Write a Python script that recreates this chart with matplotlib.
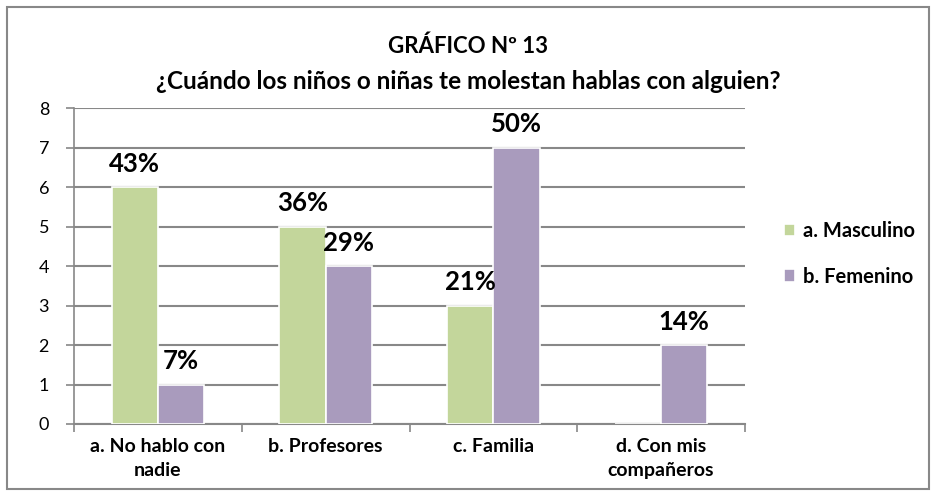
import numpy as np
import matplotlib
matplotlib.use("Agg")
import matplotlib.pyplot as plt
from matplotlib.patches import Rectangle

plt.rcParams['font.family'] = ['Lato', 'DejaVu Sans']

categorias = ["a. No hablo con\nnadie", "b. Profesores", "c. Familia", "d. Con mis\ncompañeros"]
masculino = [6, 5, 3, 0]
femenino = [1, 4, 7, 2]
etiq_masc = ["43%", "36%", "21%", ""]
etiq_fem = ["7%", "29%", "50%", "14%"]

verde = "#C3D69B"
morado = "#A99BBD"

fig = plt.figure(figsize=(9.36, 4.97), dpi=100)
ax = fig.add_axes([74/936, 1 - 424/497, (745 - 74)/936, (424 - 108)/497])

x = np.arange(len(categorias))
w = 0.275
b1 = ax.bar(x - w/2, masculino, w, color=verde, edgecolor="white", linewidth=1.2, label="a. Masculino", zorder=3)
b2 = ax.bar(x + w/2, femenino, w, color=morado, edgecolor="white", linewidth=1.2, label="b. Femenino", zorder=3)

# etiquetas de porcentaje sobre las barras
for barras, etiq in [(b1, etiq_masc), (b2, etiq_fem)]:
    for rect, t in zip(barras, etiq):
        if t:
            ax.annotate(t, (rect.get_x() + rect.get_width()/2, rect.get_height()), xytext=(0, 8),
                        textcoords="offset points", ha="center", va="bottom", fontsize=18.5, fontweight="bold")

ax.set_xlim(-0.5, 3.5)
ax.set_ylim(0, 8)
ax.set_yticks(range(0, 9))
ax.tick_params(axis="y", labelsize=13, length=6, color="#888888", width=1.2, pad=12)
ax.set_xticks(np.arange(-0.5, 4, 1))
ax.set_xticklabels([])
ax.set_xticks(x, minor=True)
ax.set_xticklabels(categorias, minor=True, fontsize=14, fontweight="bold", linespacing=1.5)
ax.tick_params(axis="x", which="minor", length=0, pad=10)
ax.tick_params(axis="x", which="major", length=6, color="#888888", width=1.2)
ax.yaxis.grid(True, color="#888888", linewidth=1.5, zorder=0)
ax.set_axisbelow(True)
for s in ["top", "right"]:
    ax.spines[s].set_visible(False)
ax.spines["left"].set_color("#888888")
ax.spines["bottom"].set_color("#888888")
ax.spines["left"].set_linewidth(1.2)
ax.spines["bottom"].set_linewidth(1.5)

fig.text(0.5, 1 - 46/497, "GRÁFICO Nº 13", ha="center", va="center", fontsize=16, fontweight="bold")
fig.text(0.5, 1 - 81/497, "¿Cuándo los niños o niñas te molestan hablas con alguien?", ha="center", va="center",
         fontsize=17.5, fontweight="bold")

fig.legend(handles=[b1, b2], loc="center left", bbox_to_anchor=(766/936, 1 - 254/497), frameon=False,
           prop={"size": 14.5, "weight": "bold"}, handlelength=0.55, handleheight=0.55,
           handletextpad=0.4, labelspacing=1.25)

fig.patches.append(Rectangle((7/936, 8/497), 922/936, 482/497, transform=fig.transFigure,
                             fill=False, edgecolor="#888888", linewidth=1.5))

fig.savefig("out.png", dpi=100)
